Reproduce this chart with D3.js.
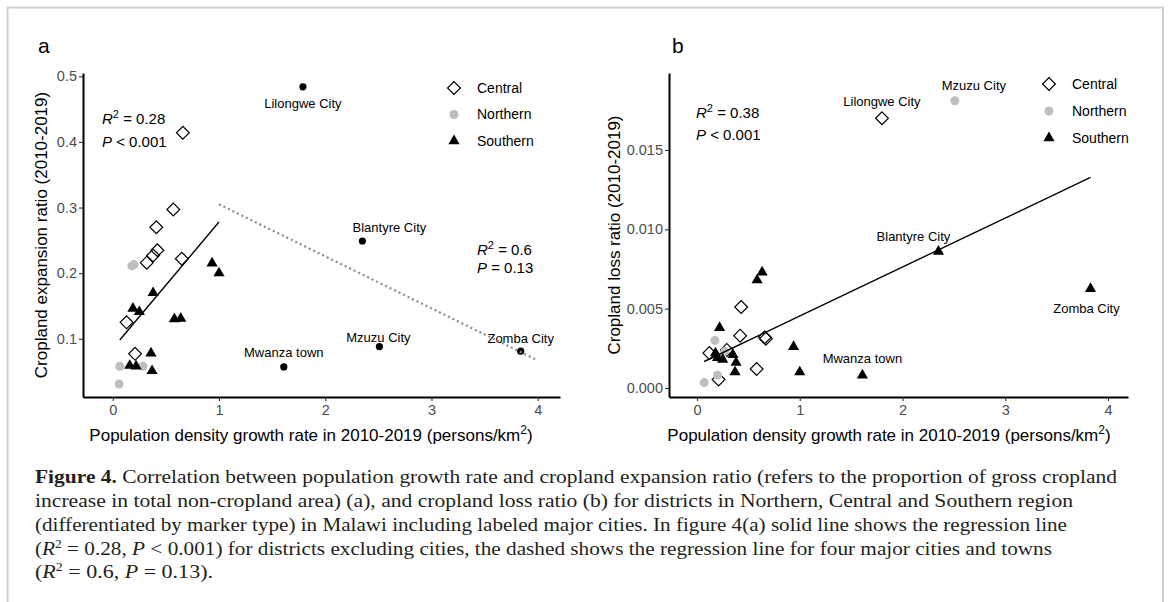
<!DOCTYPE html>
<html>
<head>
<meta charset="utf-8">
<script src="https://cdn.jsdelivr.net/npm/d3@7"></script>
<style>
  body { margin: 0; background: #fff; }
  svg { display: block; font-family: "Liberation Sans", Arial, sans-serif; }
  .caption text { font-family: "Liberation Serif", "Times New Roman", serif; }
</style>
</head>
<body>
<svg id="fig" width="1170" height="602"></svg>
<script>
// ---- Data: panel a (cropland expansion ratio) ----
const xTicks = [0, 1, 2, 3, 4];
const aYTicks = [0.1, 0.2, 0.3, 0.4, 0.5];
const aCentral = [[0.41,0.270],[0.42,0.235],[0.38,0.227],[0.32,0.216],[0.65,0.222],[0.13,0.125],[0.21,0.077],[0.57,0.297],[0.66,0.414]];
const aNorthern = [[0.18,0.211],[0.20,0.213],[0.066,0.058],[0.06,0.031],[0.285,0.058]];
const aSouthern = [[0.38,0.170],[0.19,0.146],[0.25,0.141],[0.58,0.130],[0.64,0.131],[0.935,0.215],[1.0,0.200],[0.36,0.078],[0.16,0.059],[0.22,0.058],[0.37,0.051]];
const aCities = [["Lilongwe City",1.79,0.484],["Mwanza town",1.61,0.057],["Blantyre City",2.35,0.249],["Mzuzu City",2.51,0.088],["Zomba City",3.84,0.081]];
const aFitDistricts = [[0.066,0.098],[1.0,0.278]];
const aFitCities = [[1.0,0.305],[4.0,0.067]];

// ---- Data: panel b (cropland loss ratio) ----
const bYTicks = [0, 0.005, 0.010, 0.015];
const bCentral = [[0.43,0.0051],[0.42,0.0033],[0.12,0.0022],[0.66,0.0032],[0.67,0.0031],[0.58,0.0012],[0.21,0.00054],[0.29,0.0024]];
const bNorthern = [[0.175,0.0030],[0.07,0.00034],[0.20,0.0008],[0.27,0.0023]];
const bSouthern = [[0.634,0.0073],[0.585,0.0068],[0.22,0.0038],[0.18,0.0022],[0.20,0.0019],[0.25,0.0018],[0.35,0.0021],[0.38,0.0016],[0.37,0.0010],[0.94,0.0026],[1.0,0.0010]];
const bCities = [["Lilongwe City","Central",1.80,0.0170],["Mzuzu City","Northern",2.51,0.0181],["Blantyre City","Southern",2.35,0.0086],["Zomba City","Southern",3.83,0.00625],["Mwanza town","Southern",1.61,0.0008]];
const bFit = [[0.07,0.00167],[3.83,0.01327]];

const regions = ["Central", "Northern", "Southern"];

// label nudges in px (ggrepel-ish placement)
const aLabelNudge = {"Lilongwe City":[0,21],"Mwanza town":[0,-10],"Blantyre City":[27,-9],"Mzuzu City":[-1,-5],"Zomba City":[0,-8]};
const bLabelNudge = {"Lilongwe City":[0,-12],"Mzuzu City":[19,-11],"Blantyre City":[-25,-11],"Zomba City":[-4,24],"Mwanza town":[0,-12]};

const svg = d3.select("#fig");
const grey = "#bebebe";

// outer frame
svg.append("rect")
  .attr("x", 7.5).attr("y", 7.5).attr("width", 1155.5).attr("height", 640)
  .attr("fill", "none").attr("stroke", "#d0d0d0").attr("stroke-width", 2);

function mark(g, region, px, py) {
  if (region === "Central") {
    g.append("path")
      .attr("d", d3.symbol(d3.symbolSquare, 82)())
      .attr("transform", `translate(${px},${py}) rotate(45)`)
      .attr("fill", "none").attr("stroke", "#000").attr("stroke-width", 1.2);
  } else if (region === "Northern") {
    g.append("circle").attr("cx", px).attr("cy", py).attr("r", 4.5).attr("fill", grey);
  } else if (region === "Southern") {
    g.append("path")
      .attr("d", d3.symbol(d3.symbolTriangle, 54)())
      .attr("transform", `translate(${px},${py})`)
      .attr("fill", "#000");
  } else {
    g.append("circle").attr("cx", px).attr("cy", py).attr("r", 3.6).attr("fill", "#000");
  }
}

function statText(g, px, py, parts) {
  // parts: [label, op, value]
  const t = g.append("text").attr("x", px).attr("y", py).attr("font-size", 15).attr("fill", "#000");
  t.append("tspan").attr("font-style", "italic").text(parts[0]);
  if (parts[0] === "R") {
    t.append("tspan").attr("dy", -6).attr("font-size", 11).text("2");
    t.append("tspan").attr("dy", 6).text(" " + parts[1] + " " + parts[2]);
  } else {
    t.append("tspan").text(" " + parts[1] + " " + parts[2]);
  }
}

function panel(opt) {
  const x = d3.scaleLinear().domain(opt.xDomain).range([opt.left, opt.right]);
  const y = d3.scaleLinear().domain(opt.yDomain).range([opt.bottom, opt.top]);
  const g = svg.append("g");

  // axes
  const ax = g.append("g").attr("transform", `translate(0,${opt.bottom})`)
    .call(d3.axisBottom(x).tickValues(xTicks).tickFormat(d3.format("d")).tickSize(4).tickSizeOuter(0).tickPadding(4));
  const ay = g.append("g").attr("transform", `translate(${opt.left},0)`)
    .call(d3.axisLeft(y).tickValues(opt.yTicks).tickFormat(opt.yFormat).tickSize(4).tickSizeOuter(0).tickPadding(2));
  [ax, ay].forEach(a => {
    a.attr("font-family", null);
    a.select(".domain").attr("stroke", "#000").attr("stroke-width", 2);
    a.selectAll(".tick line").attr("stroke", "#333").attr("stroke-width", 1.1);
    a.selectAll(".tick text").attr("fill", "#4d4d4d").attr("font-size", 14.5);
  });

  // axis titles
  const xt = g.append("text").attr("x", opt.xTitleX).attr("y", 441)
    .attr("text-anchor", "middle").attr("font-size", 17).attr("fill", "#000");
  xt.append("tspan").text("Population density growth rate in 2010-2019 (persons/km");
  xt.append("tspan").attr("dy", -7).attr("font-size", 12).text("2");
  xt.append("tspan").attr("dy", 7).text(")");

  g.append("text")
    .attr("transform", `translate(${opt.yTitleX},${(opt.top + opt.bottom) / 2}) rotate(-90)`)
    .attr("text-anchor", "middle").attr("font-size", 17).attr("fill", "#000")
    .text(opt.yTitle);

  // panel tag
  g.append("text").attr("x", opt.tagX).attr("y", 53).attr("font-size", 21).attr("fill", "#000").text(opt.tag);

  // points
  const pts = g.append("g");
  opt.series.forEach(([region, data]) => {
    data.forEach(d => mark(pts, region, x(d[0]), y(d[1])));
  });
  opt.cities.forEach(c => {
    const cx = x(c.x), cy = y(c.y);
    mark(pts, c.region, cx, cy);
    const n = opt.nudge[c.name];
    g.append("text").attr("x", cx + n[0]).attr("y", cy + n[1])
      .attr("text-anchor", "middle").attr("font-size", 13).attr("fill", "#000").text(c.name);
  });

  // fit lines
  const line = d3.line().x(d => x(d[0])).y(d => y(d[1]));
  opt.fits.forEach(f => {
    g.append("path").attr("d", line(f.data)).attr("fill", "none")
      .attr("stroke", f.color).attr("stroke-width", f.width)
      .attr("stroke-dasharray", f.dash || null);
  });

  // stats
  opt.stats.forEach(s => {
    statText(g, s.x, s.y1, s.r);
    statText(g, s.x, s.y2, s.p);
  });

  // legend
  regions.forEach((r, i) => {
    const ly = opt.legendY + i * opt.legendGap;
    mark(g, r, opt.legendX, ly);
    g.append("text").attr("x", opt.legendX + 23).attr("y", ly).attr("dy", "0.35em")
      .attr("font-size", 14).attr("fill", "#000").text(r);
  });
}

panel({
  tag: "a", tagX: 38,
  left: 83, right: 560, top: 73, bottom: 397,
  xDomain: [-0.28, 4.21], yDomain: [0.0112, 0.5051],
  yTicks: aYTicks, yFormat: d3.format(".1f"),
  yTitle: "Cropland expansion ratio (2010-2019)", yTitleX: 47, xTitleX: 311,
  series: [["Central", aCentral], ["Northern", aNorthern], ["Southern", aSouthern]],
  cities: aCities.map(c => ({ name: c[0], region: "City", x: c[1], y: c[2] })),
  nudge: aLabelNudge,
  fits: [
    { data: aFitDistricts, color: "#000", width: 1.4 },
    { data: aFitCities, color: "#8a8a8a", width: 2.2, dash: "2,3" }
  ],
  stats: [
    { x: 102, y1: 124, y2: 147, r: ["R", "=", "0.28"], p: ["P", "<", "0.001"] },
    { x: 477, y1: 255, y2: 273, r: ["R", "=", "0.6"], p: ["P", "=", "0.13"] }
  ],
  legendX: 454, legendY: 88, legendGap: 26.5
});

panel({
  tag: "b", tagX: 672,
  left: 669, right: 1128, top: 73, bottom: 397,
  xDomain: [-0.2725, 4.195], yDomain: [-0.000567, 0.01985],
  yTicks: bYTicks, yFormat: d3.format(".3f"),
  yTitle: "Cropland loss ratio (2010-2019)", yTitleX: 620, xTitleX: 889,
  series: [["Central", bCentral], ["Northern", bNorthern], ["Southern", bSouthern]],
  cities: bCities.map(c => ({ name: c[0], region: c[1], x: c[2], y: c[3] })),
  nudge: bLabelNudge,
  fits: [{ data: bFit, color: "#000", width: 1.4 }],
  stats: [{ x: 696, y1: 118, y2: 140, r: ["R", "=", "0.38"], p: ["P", "<", "0.001"] }],
  legendX: 1049, legendY: 84, legendGap: 27
});

// ---- caption ----
const capLines = [
  "Correlation between population growth rate and cropland expansion ratio (refers to the proportion of gross cropland",
  "increase in total non-cropland area) (a), and cropland loss ratio (b) for districts in Northern, Central and Southern region",
  "(differentiated by marker type) in Malawi including labeled major cities. In figure 4(a) solid line shows the regression line",
  " for districts excluding cities, the dashed shows the regression line for four major cities and towns",
  "."
];
const capEnds = [1117, 1073, 1067, 1052, 213];
const capBase = [483, 507, 531, 555, 578];
const cap = svg.append("g").attr("class", "caption").attr("font-size", 19).attr("fill", "#231f20");

function capText(i) {
  return cap.append("text").attr("x", 35).attr("y", capBase[i])
    .attr("textLength", capEnds[i] - 35).attr("lengthAdjust", "spacingAndGlyphs");
}
function mathStat(t, r2, op, p) {
  t.append("tspan").text("(");
  t.append("tspan").attr("font-style", "italic").text("R");
  t.append("tspan").attr("dy", -7).attr("font-size", 12).text("2");
  t.append("tspan").attr("dy", 7).text(" = " + r2 + ", ");
  t.append("tspan").attr("font-style", "italic").text("P");
  t.append("tspan").text(" " + op + " " + p + ")");
}
let t0 = capText(0);
t0.append("tspan").attr("font-weight", "bold").text("Figure 4.");
t0.append("tspan").text(" " + capLines[0]);
capText(1).text(capLines[1]);
capText(2).text(capLines[2]);
let t3 = capText(3);
mathStat(t3, "0.28", "<", "0.001");
t3.append("tspan").text(capLines[3]);
let t4 = capText(4);
mathStat(t4, "0.6", "=", "0.13");
t4.append("tspan").text(capLines[4]);
</script>
</body>
</html>
